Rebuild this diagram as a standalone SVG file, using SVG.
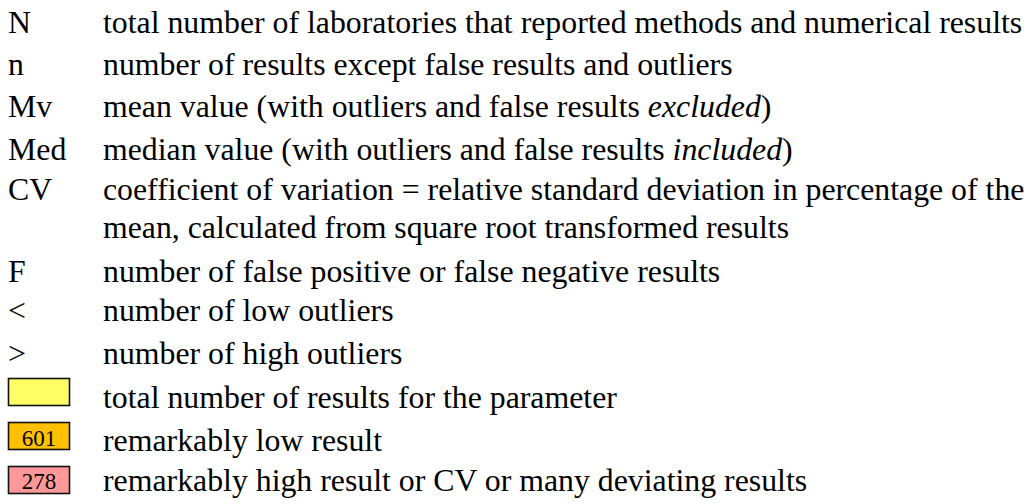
<svg xmlns="http://www.w3.org/2000/svg" width="1035" height="504" viewBox="0 0 1035 504">
  <style>
    text { font-family: "Liberation Serif", "Times New Roman", serif; font-size: 31.8px; fill: #000; }
    .k { }
    .box { stroke: #111; stroke-width: 1.6; }
    .bt { font-size: 23px; text-anchor: middle; }
    .it { font-style: italic; }
  </style>
  <rect width="1035" height="504" fill="#fff"/>
  <g id="row-N"><text x="8" y="33">N</text><text x="103" y="33">total number of laboratories that reported methods and numerical results</text></g>
  <g id="row-n"><text x="8" y="75">n</text><text x="103" y="75">number of results except false results and outliers</text></g>
  <g id="row-Mv"><text x="8" y="117">Mv</text><text x="103" y="117">mean value (with outliers and false results <tspan class="it">excluded</tspan>)</text></g>
  <g id="row-Med"><text x="8" y="160">Med</text><text x="103" y="160">median value (with outliers and false results <tspan class="it">included</tspan>)</text></g>
  <g id="row-CV"><text x="8" y="200">CV</text><text x="103" y="200">coefficient of variation = relative standard deviation in percentage of the</text><text x="103" y="238">mean, calculated from square root transformed results</text></g>
  <g id="row-F"><text x="8" y="282">F</text><text x="103" y="282">number of false positive or false negative results</text></g>
  <g id="row-lt"><text x="8" y="321">&lt;</text><text x="103" y="321">number of low outliers</text></g>
  <g id="row-gt"><text x="8" y="364">&gt;</text><text x="103" y="364">number of high outliers</text></g>
  <g id="row-total"><rect class="box" x="8.5" y="378.5" width="61" height="27" fill="#FFFF66"/><text x="103" y="408">total number of results for the parameter</text></g>
  <g id="row-low"><rect class="box" x="8.5" y="422.5" width="61" height="27" fill="#FFC000"/><text class="bt" x="39" y="446">601</text><text x="103" y="451">remarkably low result</text></g>
  <g id="row-high"><rect class="box" x="8.5" y="466.5" width="61" height="27" fill="#FF9999"/><text class="bt" x="39" y="489">278</text><text x="103" y="491">remarkably high result or CV or many deviating results</text></g>
</svg>
